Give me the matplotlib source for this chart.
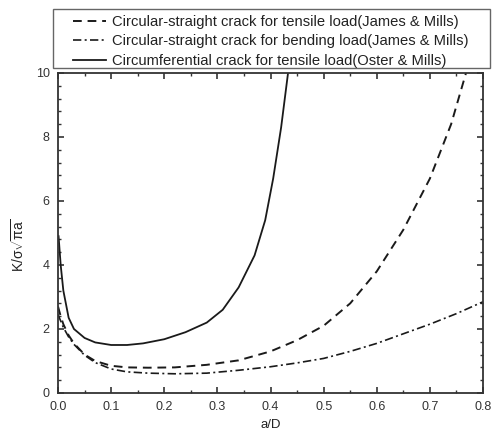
"""Stress intensity factor curves for cracked round bars."""

import matplotlib

matplotlib.use("Agg")
import matplotlib.pyplot as plt
from matplotlib.patches import Rectangle
from matplotlib.ticker import AutoMinorLocator, MultipleLocator

plt.rcParams["font.family"] = ["Liberation Sans", "DejaVu Sans"]
plt.rcParams["mathtext.fontset"] = "custom"
plt.rcParams["mathtext.rm"] = "Liberation Sans"
plt.rcParams["mathtext.it"] = "Liberation Sans"

# circumferential crack, tensile load (Oster & Mills)
circ_ad = [0.001, 0.005, 0.01, 0.02, 0.03, 0.05, 0.07, 0.1, 0.13, 0.16, 0.2,
           0.24, 0.28, 0.31, 0.34, 0.37, 0.39, 0.405, 0.42, 0.433]
circ_k = [4.9, 4.0, 3.2, 2.35, 2.0, 1.72, 1.58, 1.5, 1.5, 1.55, 1.68,
          1.9, 2.2, 2.6, 3.3, 4.3, 5.4, 6.7, 8.3, 10.0]

# circular-straight crack, tensile load (James & Mills)
tens_ad = [0.0, 0.005, 0.01, 0.02, 0.03, 0.05, 0.07, 0.1, 0.13, 0.17, 0.22,
           0.28, 0.34, 0.4, 0.45, 0.5, 0.55, 0.6, 0.65, 0.7, 0.74, 0.768]
tens_k = [2.7, 2.4, 2.15, 1.8, 1.55, 1.2, 1.0, 0.85, 0.8, 0.79, 0.8,
          0.88, 1.02, 1.3, 1.65, 2.1, 2.8, 3.8, 5.1, 6.7, 8.4, 10.0]

# circular-straight crack, bending load (James & Mills)
bend_ad = [0.0, 0.005, 0.01, 0.02, 0.03, 0.05, 0.07, 0.1, 0.13, 0.17, 0.22,
           0.28, 0.34, 0.4, 0.45, 0.5, 0.55, 0.6, 0.65, 0.7, 0.75, 0.8]
bend_k = [2.45, 2.25, 2.05, 1.75, 1.52, 1.18, 0.95, 0.75, 0.66, 0.62, 0.6,
          0.62, 0.71, 0.82, 0.94, 1.08, 1.3, 1.55, 1.85, 2.15, 2.48, 2.85]

labels = [
    "Circular-straight crack for tensile load(James & Mills)",
    "Circular-straight crack for bending load(James & Mills)",
    "Circumferential crack for tensile load(Oster & Mills)",
]

line_color = "#1a1a1a"
axis_color = "#333333"

fig = plt.figure(figsize=(4.93, 4.34), dpi=100)
ax = fig.add_axes([0.1177, 0.0945, 0.862, 0.7373])

ax.plot(tens_ad, tens_k, color=line_color, linewidth=1.4,
        dashes=(4.5, 3), label=labels[0])
ax.plot(bend_ad, bend_k, color=line_color, linewidth=1.2,
        dashes=(5, 2, 1.2, 2), label=labels[1])
ax.plot(circ_ad, circ_k, color=line_color, linewidth=1.3, label=labels[2])

ax.set_xlim(0, 0.8)
ax.set_ylim(0, 10)
ax.xaxis.set_major_locator(MultipleLocator(0.1))
ax.xaxis.set_minor_locator(AutoMinorLocator(2))
ax.yaxis.set_major_locator(MultipleLocator(2))
ax.yaxis.set_minor_locator(AutoMinorLocator(5))
ax.xaxis.set_major_formatter(plt.FormatStrFormatter("%.1f"))

ax.tick_params(which="both", direction="in", top=True, right=True,
               colors=axis_color, labelcolor=axis_color, labelsize=9)
ax.tick_params(which="major", length=4.5, width=1.2)
ax.tick_params(axis="x", which="major", pad=6)
ax.tick_params(axis="y", which="major", pad=6)
ax.tick_params(which="minor", length=2.5, width=1.0)
for spine in ax.spines.values():
    spine.set_linewidth(1.3)
    spine.set_color(axis_color)

ax.set_xlabel("a/D", fontsize=9.5, color="#222222", labelpad=4)
ax.set_ylabel(r"K/$\mathregular{\sigma\sqrt{\pi a}}$", fontsize=10,
              color="#222222")
ax.yaxis.set_label_coords(-0.072, 0.4625)

# legend sits above the axes in its own box
fig.patches.append(Rectangle((53 / 493, 1 - 68 / 434), 437 / 493, 59 / 434,
                             transform=fig.transFigure, fill=False,
                             edgecolor="#666666", linewidth=1.0))
handles, texts = ax.get_legend_handles_labels()
leg = fig.legend(handles, texts, loc="center",
                 bbox_to_anchor=(0.549, 1 - 41.5 / 434),
                 fontsize=10.6, frameon=False,
                 handlelength=2.25, handletextpad=0.35, labelspacing=0.38,
                 borderaxespad=0, borderpad=0)
for text in leg.get_texts():
    text.set_color("#222222")

fig.savefig("out.png", dpi=100)
